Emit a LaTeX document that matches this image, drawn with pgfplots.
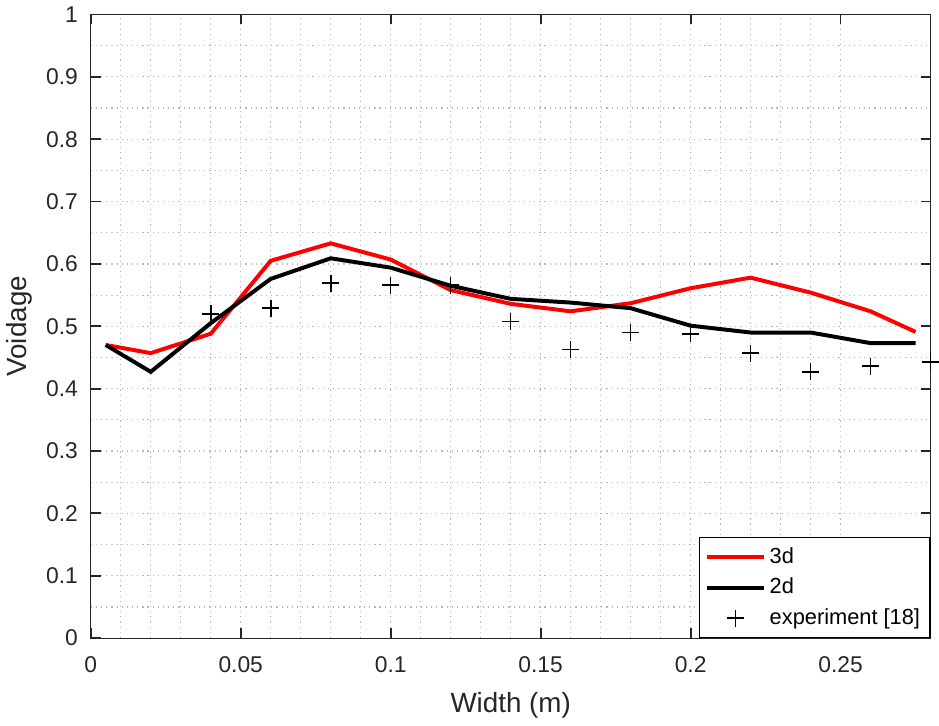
\documentclass[border=0pt]{standalone}
\usepackage{fontspec}
\setmainfont{Liberation Sans}
\usepackage{pgfplots}
\pgfplotsset{compat=1.18}
\definecolor{axgray}{RGB}{38,38,38}
\pgfplotsset{
  lineleg/.style={legend image code/.code={\draw[##1] (0cm,0cm) -- (1cm,0cm);}},
  markleg/.style={legend image code/.code={\draw[mark repeat=2,mark phase=2,##1] plot coordinates {(0cm,0cm) (0.5cm,0cm) (1cm,0cm)};}},
}
\begin{document}
\begin{tikzpicture}
\begin{axis}[
  scale only axis, width=423.5pt, height=314.5pt,
  xmin=0, xmax=0.28, ymin=0, ymax=1,
  xtick={0,0.05,0.1,0.15,0.2,0.25},
  xticklabels={0,0.05,0.1,0.15,0.2,0.25},
  ytick={0,0.1,0.2,0.3,0.4,0.5,0.6,0.7,0.8,0.9,1},
  yticklabels={0,0.1,0.2,0.3,0.4,0.5,0.6,0.7,0.8,0.9,1},
  minor x tick num=4, minor y tick num=1,
  grid=both,
  major grid style={dash pattern=on 0.6pt off 2pt, black!28, line width=0.6pt},
  minor grid style={dash pattern=on 0.6pt off 2pt, black!28, line width=0.6pt},
  tick align=inside, xtick pos=both, ytick pos=both,
  major tick length=5pt, minor tick length=0pt,
  axis line style={axgray, line width=0.6pt},
  every tick/.style={axgray, line width=0.9pt},
  tick label style={font=\fontsize{11.5}{13}\selectfont, text=axgray},
  xticklabel style={yshift=-6pt},
  yticklabel style={xshift=-3pt},
  xlabel={Width (m)}, ylabel={Voidage},
  xlabel style={yshift=-3pt},
  label style={font=\fontsize{14}{16}\selectfont, text=axgray},
  legend style={at={(1,0)}, anchor=south east, draw=black, line width=0.6pt,
    font=\fontsize{11}{13}\selectfont, legend cell align=left,
    row sep=2pt, inner xsep=3pt, inner ysep=3pt},
]
\addplot[red, line width=2pt, lineleg] coordinates {
(0.005,0.470) (0.02,0.457) (0.04,0.488) (0.06,0.605) (0.08,0.633) (0.10,0.607)
(0.12,0.558) (0.14,0.536) (0.16,0.524) (0.18,0.537) (0.20,0.561) (0.22,0.578)
(0.24,0.554) (0.26,0.524) (0.275,0.491)
};
\addlegendentry{3d}
\addplot[black, line width=2pt, lineleg] coordinates {
(0.005,0.470) (0.02,0.427) (0.04,0.505) (0.06,0.576) (0.08,0.609) (0.10,0.594)
(0.12,0.565) (0.14,0.544) (0.16,0.538) (0.18,0.529) (0.20,0.501) (0.22,0.490)
(0.24,0.490) (0.26,0.473) (0.275,0.473)
};
\addlegendentry{2d}
\addplot[black, only marks, mark=+, mark size=4.25pt, line width=0.8pt, markleg] coordinates {
(0.04,0.520) (0.06,0.529) (0.08,0.569) (0.10,0.566) (0.12,0.566) (0.14,0.508)
(0.16,0.463) (0.18,0.490) (0.20,0.488) (0.22,0.457) (0.24,0.427) (0.26,0.436)
(0.28,0.443)
};
\addlegendentry{experiment [18]}
\end{axis}
\end{tikzpicture}
\end{document}
